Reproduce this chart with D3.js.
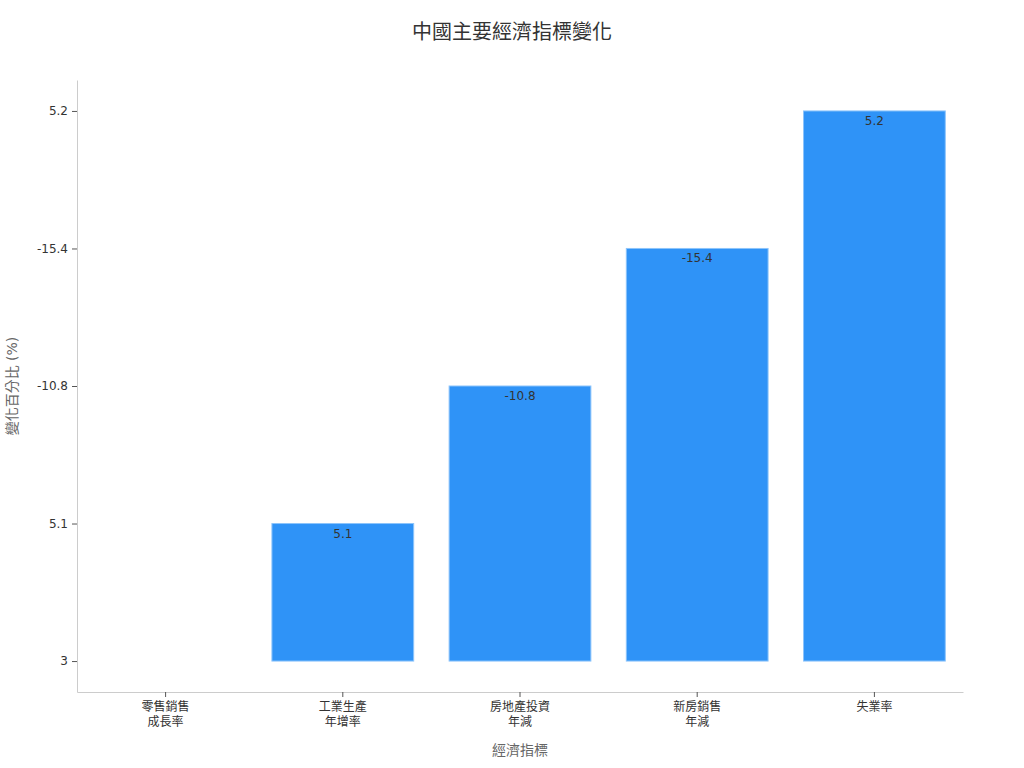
<html lang="zh-Hant">
<head>
  <meta charset="UTF-8">
  <title>中國主要經濟指標變化</title>
  <script src="https://d3js.org/d3.v7.min.js"></script>
</head>
<style>
  body { margin: 0; background: white; }
  svg text { font-family: "DejaVu Sans", "Noto Sans CJK TC", sans-serif; }
  .axis .domain { stroke: #ccc; }
  .axis line { stroke: #555; }
  .axis text { fill: #333; font-size: 12px; }
</style>
<body>
  <svg class="chart" width="1024" height="768"></svg>
  <script>
    // data; y axis is categorical (labels in data order)
    const categories = [["零售銷售", "成長率"], ["工業生產", "年增率"], ["房地產投資", "年減"], ["新房銷售", "年減"], ["失業率"]];
    const valueLabels = ["3", "5.1", "-10.8", "-15.4", "5.2"];

    const svg = d3.select('svg.chart');
    const margins = { top: 80, right: 61, bottom: 76, left: 77 };
    const width = +svg.attr('width');
    const height = +svg.attr('height');
    const chartWidth = width - margins.left - margins.right;
    const chartHeight = height - margins.top - margins.bottom;

    const catKeys = categories.map(c => c.join(''));
    const xScale = d3.scaleBand().domain(catKeys).range([0, chartWidth])
      .paddingInner(0.2).paddingOuter(0.1);
    const yScale = d3.scalePoint().domain(valueLabels).range([chartHeight, 0]).padding(0.225);

    svg.append('text')
      .attr('x', width / 2).attr('y', 39)
      .attr('text-anchor', 'middle')
      .style('font-size', '20px').style('fill', '#333')
      .text('中國主要經濟指標變化');

    const chartArea = svg.append('g')
      .attr('transform', `translate(${margins.left},${margins.top})`);

    // bars start at the first category level
    const base = yScale(valueLabels[0]);
    chartArea.selectAll('rect.bar')
      .data(catKeys)
      .enter().append('rect')
      .attr('class', 'bar')
      .attr('x', d => xScale(d))
      .attr('width', xScale.bandwidth())
      .attr('y', (d, i) => yScale(valueLabels[i]))
      .attr('height', (d, i) => base - yScale(valueLabels[i]))
      .attr('fill', '#2f93f7')
      .attr('stroke', '#8cc4fb')
      .attr('stroke-width', 1);

    chartArea.selectAll('text.val')
      .data(catKeys)
      .enter().append('text')
      .attr('class', 'val')
      .filter((d, i) => i > 0)
      .attr('x', d => xScale(d) + xScale.bandwidth() / 2)
      .attr('y', (d, i) => yScale(valueLabels[i + 1]) + 14)
      .attr('text-anchor', 'middle')
      .style('font-size', '12px').style('fill', '#333')
      .text((d, i) => valueLabels[i + 1]);

    // y axis
    chartArea.append('g')
      .attr('class', 'axis y')
      .call(d3.axisLeft(yScale).tickSize(5).tickPadding(4).tickSizeOuter(0));

    // x axis with two-line labels
    const xAxis = chartArea.append('g')
      .attr('class', 'axis x')
      .attr('transform', `translate(0,${chartHeight})`)
      .call(d3.axisBottom(xScale).tickSize(5).tickSizeOuter(0).tickFormat(''));
    xAxis.selectAll('.tick').each(function (d, i) {
      const t = d3.select(this).append('text')
        .attr('y', 19).attr('text-anchor', 'middle');
      categories[i].forEach((line, j) => {
        t.append('tspan').attr('x', 0).attr('dy', j === 0 ? 0 : 15).text(line);
      });
    });

    svg.append('text')
      .attr('x', margins.left + chartWidth / 2).attr('y', 755)
      .attr('text-anchor', 'middle')
      .style('font-size', '14px').style('fill', '#666')
      .text('經濟指標');

    svg.append('text')
      .attr('transform', `translate(17,${margins.top + chartHeight / 2}) rotate(-90)`)
      .attr('text-anchor', 'middle')
      .style('font-size', '14px').style('fill', '#666')
      .text('變化百分比 (%)');
  </script>
</body>
</html>
